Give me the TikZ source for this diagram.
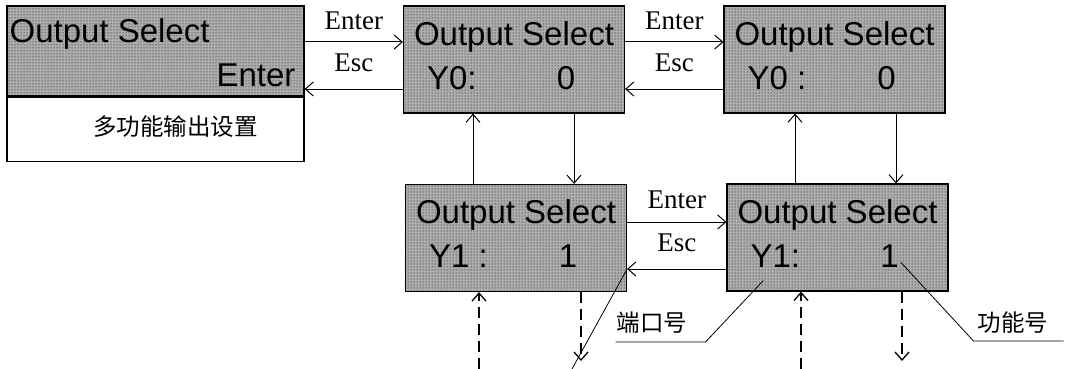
\documentclass[tikz,border=0pt]{standalone}
\usepackage{fontspec}
\setmainfont{Liberation Serif}
\newfontfamily\lcdfont{Liberation Sans}
\newfontfamily\cjk{Noto Sans CJK SC}
\usetikzlibrary{arrows.meta,patterns}
\tikzset{
  pantalla/.style={draw,line width=1.2pt,minimum width=221pt,minimum height=107pt,
    inner sep=0pt,preaction={fill=black!32},pattern=dots,pattern color=black},
  lcd/.style={inner sep=0pt,font=\lcdfont\fontsize{33}{33}\selectfont},
  tecla/.style={inner sep=0pt,font=\fontsize{27}{27}\selectfont},
  nota/.style={inner sep=0pt,font=\cjk\fontsize{23.5}{23.5}\selectfont},
  flecha/.style={line width=1pt,-{Straight Barb[length=8pt,width=14pt]}},
  punteada/.style={line width=2.5pt,dash pattern=on 11pt off 6pt,
    -{Straight Barb[length=8pt,width=14pt,line width=1.3pt]}},
  guia/.style={line width=0.8pt}
}
\newcommand{\Pantalla}[4]{%
  \node[pantalla] (#1) at (#2) {};
  \node[lcd,anchor=base] (#1-t) at ([yshift=-40pt]#1.north) {Output Select};
  \node[lcd,anchor=base west] (#1-p) at ([xshift=24pt,yshift=-84pt]#1.north west) {#3};
  \node[lcd,anchor=base] (#1-v) at ([xshift=52pt,yshift=-84pt]#1.north) {#4};
}

\begin{document}
\begin{tikzpicture}[x=1pt,y=-1pt]
    \useasboundingbox (0,0) rectangle (1065,369);

    \node[pantalla,minimum width=297pt,minimum height=90pt] (a) at (155.5,51) {};
    \node[draw,line width=1.2pt,minimum width=297pt,minimum height=64pt,
      inner sep=0pt,anchor=north] (a-i) at (a.south) {};
    \node[lcd,anchor=base west] (a-t) at ([xshift=3pt,yshift=-37pt]a.north west) {Output Select};
    \node[lcd,anchor=base east] (a-e) at ([xshift=-9pt,yshift=-81pt]a.north east) {Enter};
    \node[nota] (a-n) at ([xshift=20pt,yshift=3pt]a-i.center) {多功能输出设置};

    \Pantalla{b}{514,59.5}{Y0:}{0}
    \Pantalla{c}{834.5,59.5}{Y0 :}{0}
    \Pantalla{d}{516,238}{Y1 :}{1}
    \Pantalla{e}{837.5,237.5}{Y1:}{1}

    \draw[flecha] ([yshift=17.5pt]b.west -| a.east) -- node[tecla,midway,above=12pt] {Enter} ([yshift=17.5pt]b.west);
    \draw[flecha] ([yshift=-29.5pt]b.west) -- node[tecla,midway,above=17pt] {Esc} ([yshift=-29.5pt]b.west -| a.east);
    \draw[flecha] ([yshift=17.5pt]b.east) -- node[tecla,midway,above=12pt] {Enter} ([yshift=17.5pt]c.west);
    \draw[flecha] ([yshift=-29.5pt]c.west) -- node[tecla,midway,above=17pt] {Esc} ([yshift=-29.5pt]b.east);
    \draw[flecha] ([yshift=16pt]d.east) -- node[tecla,midway,above=13pt] {Enter} ([yshift=16pt]d.east -| e.west);
    \draw[flecha] ([yshift=-31pt]d.east -| e.west) -- node[tecla,midway,above=17pt] {Esc} ([yshift=-31pt]d.east);

    \draw[flecha] ([xshift=-43pt]d.north) -- ([xshift=-43pt]d.north |- b.south);
    \draw[flecha] ([xshift=60pt]b.south) -- ([xshift=60pt]b.south |- d.north);
    \draw[flecha] ([xshift=-42.5pt]e.north) -- ([xshift=-42.5pt]e.north |- c.south);
    \draw[flecha] ([xshift=61.5pt]c.south) -- ([xshift=61.5pt]c.south |- e.north);

    \coordinate (d-sube) at (479,369);
    \coordinate (d-baja) at (581,361);
    \coordinate (e-sube) at (801,369);
    \coordinate (e-baja) at (902,361);
    \draw[punteada] (d-sube) -- (d-sube |- d.south);
    \draw[punteada] (d-baja |- d.south) -- (d-baja);
    \draw[punteada] (e-sube) -- (e-sube |- e.south);
    \draw[punteada] (e-baja |- e.south) -- (e-baja);

    \node[nota] (puerto) at (652,323) {端口号};
    \node[nota] (funcion) at (1013,323) {功能号};
    \coordinate (fin) at (572,369);
    \draw[guia] ([xshift=-1pt,yshift=-8pt]puerto.south west) -- ++(90,0)
      -- ([xshift=13pt,yshift=-13pt]e-p.base west);
    \draw[guia] ([xshift=2pt,yshift=5pt]e-v.base east)
      -- ([xshift=-4pt,yshift=-7pt]funcion.south west) -- ++(90,0);
    \draw[guia] ([yshift=-31pt]d.east) -- (fin);
  \end{tikzpicture}
\end{document}
